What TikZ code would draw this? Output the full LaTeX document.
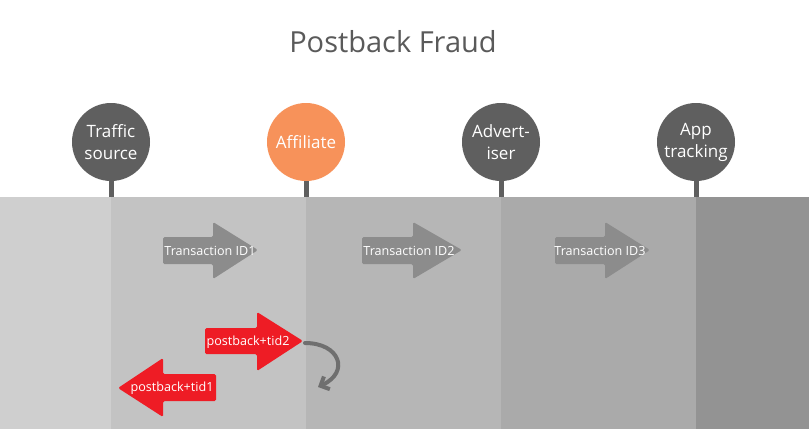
\documentclass[tikz,border=0pt]{standalone}
\usepackage{fontspec}
\setmainfont{Open Sans}
\usetikzlibrary{arrows.meta}

\definecolor{bandA}{HTML}{CFCFCF}
\definecolor{bandB}{HTML}{C3C3C3}
\definecolor{bandC}{HTML}{B6B6B6}
\definecolor{bandD}{HTML}{AAAAAA}
\definecolor{bandE}{HTML}{939393}
\definecolor{stopgray}{HTML}{5F5F5F}
\definecolor{stoporange}{HTML}{F7925A}
\definecolor{idgray}{HTML}{8C8C8C}
\definecolor{fraudred}{HTML}{EE1C25}
\definecolor{titlegray}{HTML}{5A5A5A}

\begin{document}
\begin{tikzpicture}[x=1pt,y=-1pt,
    stop/.style={circle, minimum size=78pt, inner sep=0pt, align=center, text=white,
        font=\fontsize{17}{22}\selectfont, fill=stopgray},
    stem/.style={draw=stopgray, line width=5pt},
    idarrow/.style={fill=idgray, rounded corners=1.5pt},
    redarrow/.style={fill=fraudred, rounded corners=1.5pt},
    arrowtext/.style={text=white, inner sep=0pt, font=\fontsize{12.6}{14}\selectfont},
    curl/.style={draw=stopgray!90, line width=4pt, line cap=round,
        -{Straight Barb[length=7pt,width=14pt,line width=4pt]}}]
    \useasboundingbox (0,0) rectangle (809,429);
    \fill[white] (0,0) rectangle (809,197);
    \fill[bandA] (0,197) rectangle (111,429);
    \fill[bandB] (111,197) rectangle (306,429);
    \fill[bandC] (306,197) rectangle (501,429);
    \fill[bandD] (501,197) rectangle (696,429);
    \fill[bandE] (696,197) rectangle (809,429);

    \node[text=titlegray, font=\fontsize{29}{33}\selectfont] (title) at (393,42) {Postback Fraud};

    \coordinate (b1) at (111,197);
    \coordinate (b2) at (306,197);
    \coordinate (b3) at (501,197);
    \coordinate (b4) at (696,197);
    \node[stop] (traffic) at (111,142) {Traffic\\source};
    \node[stop, fill=stoporange] (affiliate) at (306,142) {Affiliate};
    \node[stop] (advertiser) at (501,142) {Advert-\\iser};
    \node[stop] (tracking) at (696,142) {App\\tracking};
    \draw[stem] (traffic.south) -- (b1);
    \draw[stem] (affiliate.south) -- (b2);
    \draw[stem] (advertiser.south) -- (b3);
    \draw[stem] (tracking.south) -- (b4);

    \fill[idarrow] (163,237) -- (213,237) -- (213,222) -- (258,250) -- (213,279) -- (213,264) -- (163,264) -- cycle;
    \fill[idarrow] (362,237) -- (413,237) -- (413,222) -- (462,250) -- (413,279) -- (413,264) -- (362,264) -- cycle;
    \fill[idarrow] (555,237) -- (605,237) -- (605,222) -- (650,250) -- (605,279) -- (605,264) -- (555,264) -- cycle;
    \node[arrowtext] (tid1) at (210,251) {Transaction ID1};
    \node[arrowtext] (tid2) at (409,251) {Transaction ID2};
    \node[arrowtext] (tid3) at (600,251) {Transaction ID3};

    \fill[redarrow] (205,328) -- (257,328) -- (257,312) -- (303,341) -- (257,371) -- (257,354) -- (205,354) -- cycle;
    \fill[redarrow] (216,374) -- (163,374) -- (163,358) -- (118,388) -- (163,417) -- (163,401) -- (216,401) -- cycle;
    \node[arrowtext] (pb2) at (248,342) {postback+tid2};
    \node[arrowtext] (pb1) at (172,388) {postback+tid1};

    \coordinate (curlstart) at (305,343);
    \coordinate (curlend) at (318,387);
    \draw[curl] (curlstart) .. controls (340,343) and (350,372) .. (curlend);
\end{tikzpicture}
\end{document}
